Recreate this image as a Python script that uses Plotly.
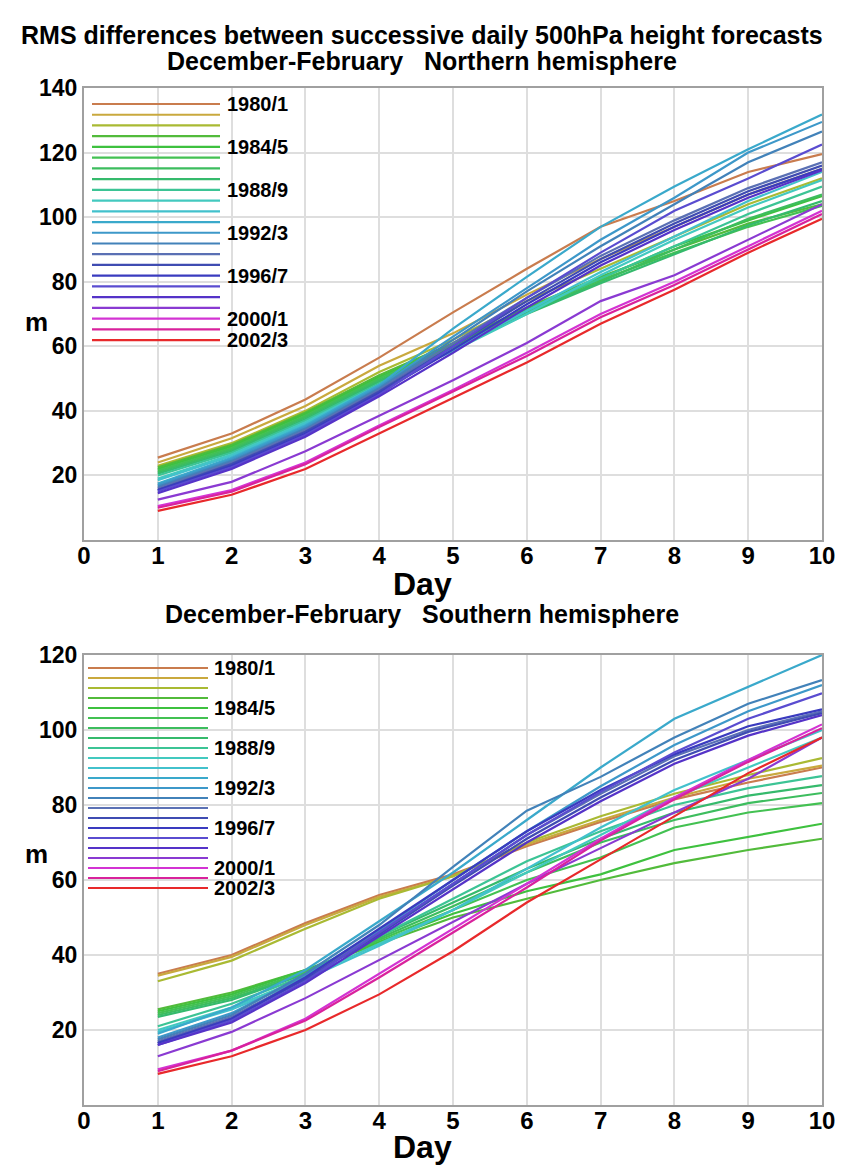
import plotly.graph_objects as go

# Forecast day (1..10) and winter seasons
days = [1, 2, 3, 4, 5, 6, 7, 8, 9, 10]
seasons = ["1980/1", "1981/2", "1982/3", "1983/4", "1984/5", "1985/6", "1986/7",
           "1987/8", "1988/9", "1989/90", "1990/1", "1991/2", "1992/3", "1993/4",
           "1994/5", "1995/6", "1996/7", "1997/8", "1998/9", "1999/2000", "2000/1",
           "2001/2", "2002/3"]
labelled = ["1980/1", "1984/5", "1988/9", "1992/3", "1996/7", "2000/1", "2002/3"]
colors = ["#c97c4e", "#c9a93e", "#a9ba33", "#52bb3b", "#3ec13f", "#43c152", "#3dbd5e",
          "#35ba6c", "#3cc495", "#43c9bf", "#42c1cc", "#3aa9cb", "#3d98c9", "#4282b9",
          "#5a70b4", "#3f4cb2", "#3a3bbf", "#5a4cd0", "#5533c8", "#8a3ad2", "#d333d3",
          "#d9229c", "#e8292b"]

# RMS differences (m), Northern hemisphere, one row per season
nh_rms = [
    [25.5, 33.0, 43.5, 56.5, 70.5, 84.0, 97.0, 105.0, 114.0, 119.5],
    [24.0, 31.5, 41.5, 54.0, 64.0, 76.0, 87.0, 97.0, 107.0, 115.0],
    [23.0, 30.0, 40.0, 52.0, 62.0, 74.0, 84.0, 94.0, 104.0, 112.0],
    [22.5, 29.5, 39.5, 51.0, 61.0, 72.0, 81.5, 90.0, 98.0, 104.0],
    [22.0, 29.0, 39.0, 50.5, 60.5, 71.5, 81.0, 91.0, 99.0, 106.5],
    [21.5, 28.5, 38.5, 50.0, 60.0, 71.0, 80.5, 89.0, 97.0, 103.5],
    [21.0, 28.0, 38.0, 49.5, 59.5, 70.5, 80.0, 90.0, 99.5, 107.0],
    [20.5, 27.5, 37.5, 49.0, 59.0, 70.0, 79.5, 88.5, 97.5, 105.0],
    [20.0, 27.0, 37.0, 48.5, 59.0, 71.0, 81.0, 91.0, 101.0, 109.5],
    [19.0, 26.5, 36.5, 48.0, 58.5, 70.0, 82.0, 93.0, 103.0, 111.5],
    [18.5, 26.0, 36.0, 48.0, 59.0, 71.0, 83.0, 94.0, 105.0, 114.0],
    [17.5, 25.5, 35.5, 48.0, 65.5, 81.5, 97.0, 109.5, 121.0, 131.8],
    [17.0, 25.0, 35.0, 47.5, 63.0, 78.0, 93.0, 106.0, 120.0, 129.5],
    [16.5, 24.5, 34.5, 47.0, 62.0, 77.0, 91.0, 104.0, 117.0, 126.5],
    [16.0, 24.0, 34.0, 46.5, 61.0, 75.0, 88.0, 99.0, 109.0, 117.0],
    [15.5, 23.5, 33.5, 46.0, 60.0, 74.0, 87.0, 98.0, 108.0, 116.0],
    [15.5, 23.0, 33.0, 45.5, 59.0, 73.0, 86.0, 97.0, 107.0, 115.0],
    [15.0, 22.5, 32.5, 45.0, 60.0, 75.0, 89.0, 102.0, 112.0, 122.5],
    [14.5, 22.0, 32.0, 44.5, 58.0, 72.0, 85.0, 96.0, 106.0, 114.5],
    [12.5, 18.0, 27.5, 38.5, 49.5, 61.0, 74.0, 82.0, 93.0, 104.0],
    [10.5, 15.5, 24.0, 35.5, 46.5, 58.0, 70.0, 80.0, 91.0, 102.0],
    [10.0, 15.0, 23.5, 35.0, 46.0, 57.0, 69.0, 79.0, 90.0, 101.0],
    [9.0, 14.0, 22.0, 33.0, 44.0, 55.0, 67.0, 77.5, 89.0, 99.5],
]

# RMS differences (m), Southern hemisphere, one row per season
sh_rms = [
    [35.0, 40.0, 48.5, 56.0, 61.5, 69.0, 75.5, 81.5, 86.0, 90.0],
    [34.5, 39.5, 48.0, 55.5, 61.0, 69.5, 76.0, 82.0, 87.0, 90.5],
    [33.0, 38.5, 47.0, 55.0, 61.0, 70.0, 77.0, 83.0, 88.0, 92.5],
    [25.5, 30.0, 36.0, 43.0, 50.0, 55.0, 60.0, 64.5, 68.0, 71.0],
    [25.0, 29.5, 36.0, 43.5, 51.0, 57.0, 61.5, 68.0, 71.5, 75.0],
    [24.5, 29.0, 35.5, 44.0, 52.0, 60.0, 66.0, 74.0, 78.0, 80.5],
    [24.0, 28.5, 35.0, 44.5, 53.0, 62.0, 70.0, 76.0, 80.5, 83.2],
    [23.5, 28.0, 35.0, 45.0, 54.0, 63.0, 71.0, 78.0, 82.5, 85.3],
    [21.0, 27.0, 34.5, 45.0, 55.0, 65.0, 73.0, 80.0, 84.5, 87.7],
    [20.0, 26.0, 34.0, 43.0, 52.0, 62.0, 72.0, 82.0, 90.0, 98.0],
    [19.5, 25.5, 33.5, 42.5, 52.0, 63.0, 74.0, 84.0, 92.0, 100.0],
    [19.0, 26.0, 36.0, 49.0, 62.0, 76.0, 90.0, 103.0, 111.5, 120.0],
    [18.0, 24.5, 34.5, 46.5, 60.0, 73.0, 85.0, 96.0, 105.0, 112.0],
    [17.5, 24.0, 35.0, 48.0, 63.5, 78.5, 87.5, 98.0, 107.0, 113.3],
    [17.0, 23.5, 34.0, 46.0, 59.0, 72.0, 83.0, 93.0, 100.0, 105.0],
    [16.5, 23.0, 33.5, 45.5, 58.5, 71.0, 82.0, 92.0, 99.5, 104.5],
    [16.5, 23.0, 34.0, 47.0, 60.0, 73.0, 84.0, 93.5, 101.0, 105.5],
    [16.0, 22.5, 33.0, 46.0, 59.0, 72.0, 83.5, 94.0, 103.0, 109.8],
    [16.0, 22.0, 32.5, 45.0, 57.5, 70.0, 81.0, 91.0, 98.5, 104.0],
    [13.0, 19.5, 28.5, 38.7, 49.0, 59.0, 68.5, 78.0, 87.0, 98.0],
    [9.5, 14.5, 23.0, 35.0, 47.0, 59.0, 71.0, 82.0, 92.0, 101.5],
    [9.0, 14.5, 22.5, 34.0, 46.0, 58.0, 70.5, 81.5, 91.5, 100.5],
    [8.3, 13.0, 20.0, 29.5, 41.0, 54.0, 65.5, 77.0, 88.5, 98.0],
]

nh_ticks = [20, 40, 60, 80, 100, 120, 140]
sh_ticks = [20, 40, 60, 80, 100, 120]
day_ticks = list(range(0, 11))

W, H = 844, 1166


def fx(p):
    return p / W


def fy(p):
    return 1 - p / H


BOLD = "Liberation Sans"
GRID = "#dedede"
FRAME = "#a0a0a0"

fig = go.Figure()

panels = [
    dict(data=nh_rms, xa="x", ya="y", top=88, leg_x0=92, leg_x1=220, leg_y0=104,
         leg_step=10.73, leg_right=292, leg_bottom=350, text_x=225),
    dict(data=sh_rms, xa="x2", ya="y2", top=655, leg_x0=88, leg_x1=208, leg_y0=668,
         leg_step=10.0, leg_right=277, leg_bottom=898, text_x=212),
]

shapes = []
annotations = []

for p in panels:
    for name, vals, col in zip(seasons, p["data"], colors):
        fig.add_trace(go.Scatter(
            x=days, y=vals, mode="lines", name=name,
            line=dict(color=col, width=2.2), showlegend=False,
            xaxis=p["xa"], yaxis=p["ya"], hoverinfo="skip"))

    # legend panel: white box hiding the grid, one coloured line per season
    shapes.append(dict(type="rect", xref="paper", yref="paper", layer="between",
                       x0=fx(85), x1=fx(p["leg_right"]), y0=fy(p["leg_bottom"]), y1=fy(p["top"] + 1),
                       fillcolor="white", line=dict(width=0)))
    for i, (name, col) in enumerate(zip(seasons, colors)):
        yy = p["leg_y0"] + i * p["leg_step"]
        shapes.append(dict(type="line", xref="paper", yref="paper", layer="above",
                           x0=fx(p["leg_x0"]), x1=fx(p["leg_x1"]), y0=fy(yy), y1=fy(yy),
                           line=dict(color=col, width=2.2)))
        if name in labelled:
            annotations.append(dict(x=fx(p["text_x"]), y=fy(yy),
                                    xanchor="left", yanchor="middle",
                                    text=name, font=dict(family=BOLD, size=20, color="black",
                                                         weight="bold")))

# titles and axis labels
title_font = dict(family=BOLD, size=25, color="black", weight="bold")
day_font = dict(family=BOLD, size=32, color="black", weight="bold")
annotations += [
    dict(x=0.5, y=fy(19), text="RMS differences between successive daily 500hPa height forecasts",
         font=title_font),
    dict(x=0.5, y=fy(45), text="December-February   Northern hemisphere", font=title_font),
    dict(x=0.5, y=fy(614), text="December-February   Southern hemisphere", font=title_font),
    dict(x=0.5, y=fy(584), text="Day", font=day_font),
    dict(x=0.5, y=fy(1167), yanchor="bottom", text="Day", font=day_font),
    dict(x=fx(23), y=fy(305), text="m", font=dict(family=BOLD, size=26, color="black", weight="bold")),
    dict(x=fx(23), y=fy(871), text="m", font=dict(family=BOLD, size=26, color="black", weight="bold")),
]
for a in annotations:
    a.setdefault("xref", "paper")
    a.setdefault("yref", "paper")
    a.setdefault("showarrow", False)

xaxis_style = dict(range=[0, 10], tickvals=day_ticks, showgrid=True, gridcolor=GRID, gridwidth=1.5,
                   showline=True, linecolor=FRAME, linewidth=2, mirror=True, ticks="",
                   zeroline=False, domain=[fx(84), fx(822)], automargin=False,
                   ticklabelstandoff=-7,
                   tickfont=dict(family=BOLD, size=24, color="black", weight="bold"))
yaxis_style = dict(showgrid=True, gridcolor=GRID, gridwidth=1.5, showline=True, linecolor=FRAME,
                   linewidth=2, mirror=True, ticks="", zeroline=False, automargin=False,
                   tickfont=dict(family=BOLD, size=23, color="black", weight="bold"))

fig.update_layout(
    width=W, height=H, margin=dict(l=0, r=0, t=0, b=0, autoexpand=False),
    paper_bgcolor="white", plot_bgcolor="white", showlegend=False,
    xaxis=dict(**xaxis_style, anchor="y"),
    yaxis=dict(**yaxis_style, anchor="x", range=[0, 140], tickvals=nh_ticks,
               domain=[fy(540), fy(88)]),
    xaxis2=dict(**xaxis_style, anchor="y2"),
    yaxis2=dict(**yaxis_style, anchor="x2", range=[0, 120], tickvals=sh_ticks,
                domain=[fy(1105), fy(655)]),
    shapes=shapes, annotations=annotations,
)

fig.write_html("out.html")
